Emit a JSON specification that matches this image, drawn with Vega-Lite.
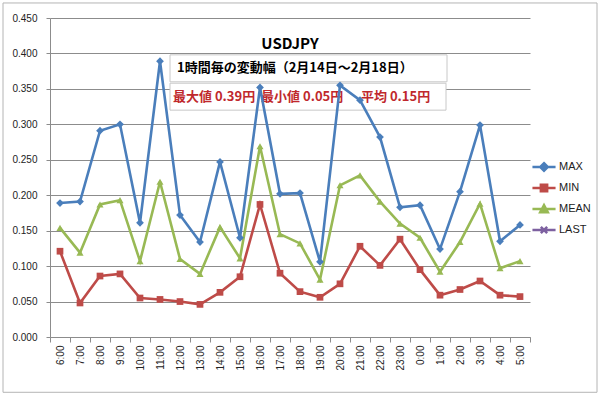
{
  "$schema": "https://vega.github.io/schema/vega-lite/v6.json",
  "width": 480,
  "height": 319,
  "autosize": {"type": "none"},
  "padding": {"left": 50, "top": 18, "right": 70, "bottom": 57},
  "background": "white",
  "config": {"view": {"stroke": null}, "font": "Liberation Sans"},
  "data": {"values": [
    {"t": "6:00", "MAX": 0.189, "MIN": 0.121, "MEAN": 0.154},
    {"t": "7:00", "MAX": 0.191, "MIN": 0.048, "MEAN": 0.119},
    {"t": "8:00", "MAX": 0.291, "MIN": 0.086, "MEAN": 0.187},
    {"t": "9:00", "MAX": 0.300, "MIN": 0.089, "MEAN": 0.193},
    {"t": "10:00", "MAX": 0.161, "MIN": 0.055, "MEAN": 0.107},
    {"t": "11:00", "MAX": 0.389, "MIN": 0.053, "MEAN": 0.219},
    {"t": "12:00", "MAX": 0.172, "MIN": 0.050, "MEAN": 0.110},
    {"t": "13:00", "MAX": 0.134, "MIN": 0.046, "MEAN": 0.089},
    {"t": "14:00", "MAX": 0.247, "MIN": 0.063, "MEAN": 0.155},
    {"t": "15:00", "MAX": 0.140, "MIN": 0.085, "MEAN": 0.111},
    {"t": "16:00", "MAX": 0.352, "MIN": 0.187, "MEAN": 0.269},
    {"t": "17:00", "MAX": 0.202, "MIN": 0.090, "MEAN": 0.145},
    {"t": "18:00", "MAX": 0.203, "MIN": 0.064, "MEAN": 0.132},
    {"t": "19:00", "MAX": 0.106, "MIN": 0.056, "MEAN": 0.081},
    {"t": "20:00", "MAX": 0.355, "MIN": 0.075, "MEAN": 0.214},
    {"t": "21:00", "MAX": 0.334, "MIN": 0.128, "MEAN": 0.228},
    {"t": "22:00", "MAX": 0.282, "MIN": 0.101, "MEAN": 0.191},
    {"t": "23:00", "MAX": 0.183, "MIN": 0.138, "MEAN": 0.160},
    {"t": "0:00", "MAX": 0.186, "MIN": 0.095, "MEAN": 0.140},
    {"t": "1:00", "MAX": 0.124, "MIN": 0.059, "MEAN": 0.092},
    {"t": "2:00", "MAX": 0.205, "MIN": 0.067, "MEAN": 0.134},
    {"t": "3:00", "MAX": 0.299, "MIN": 0.079, "MEAN": 0.188},
    {"t": "4:00", "MAX": 0.135, "MIN": 0.059, "MEAN": 0.097},
    {"t": "5:00", "MAX": 0.158, "MIN": 0.057, "MEAN": 0.107}
  ]},
  "layer": [
    {
      "data": {"values": [{}]},
      "layer": [
        {
          "mark": {"type": "rect", "fill": null, "stroke": "#b4b4b4", "strokeWidth": 1},
          "encoding": {
            "x": {"datum": -2.35, "type": "quantitative", "scale": {"domain": [0, 24], "nice": false, "zero": false}, "axis": null},
            "x2": {"datum": 27.35},
            "y": {"datum": 0.4712, "type": "quantitative", "scale": {"domain": [0, 0.45], "nice": false}, "axis": null},
            "y2": {"datum": -0.078}
          }
        },
        {
          "mark": {"type": "rect", "fill": "white", "stroke": "#c8c8c8", "strokeWidth": 1},
          "encoding": {
            "x": {"datum": 6.0, "type": "quantitative", "axis": null},
            "x2": {"datum": 19.85},
            "y": {"datum": 0.398, "type": "quantitative", "axis": null},
            "y2": {"datum": 0.360}
          }
        },
        {
          "mark": {"type": "rect", "fill": "white", "stroke": "#c8c8c8", "strokeWidth": 1},
          "encoding": {
            "x": {"datum": 6.0, "type": "quantitative", "axis": null},
            "x2": {"datum": 19.8},
            "y": {"datum": 0.358, "type": "quantitative", "axis": null},
            "y2": {"datum": 0.320}
          }
        },
        {
          "mark": {"type": "text", "font": "Noto Sans CJK JP", "fontWeight": "bold", "fontSize": 15, "align": "center", "baseline": "middle", "color": "#000000"},
          "encoding": {
            "x": {"datum": 12.0, "type": "quantitative", "axis": null},
            "y": {"datum": 0.414, "type": "quantitative", "axis": null},
            "text": {"value": "USDJPY"}
          }
        },
        {
          "mark": {"type": "text", "font": "Noto Sans CJK JP", "fontWeight": "bold", "fontSize": 13, "align": "left", "baseline": "middle", "color": "#000000"},
          "encoding": {
            "x": {"datum": 6.35, "type": "quantitative", "axis": null},
            "y": {"datum": 0.379, "type": "quantitative", "axis": null},
            "text": {"value": "1時間毎の変動幅（2月14日～2月18日）"}
          }
        },
        {
          "mark": {"type": "text", "font": "Noto Sans CJK JP", "fontWeight": "bold", "fontSize": 13, "align": "left", "baseline": "middle", "color": "#c0282d"},
          "encoding": {
            "x": {"datum": 6.15, "type": "quantitative", "axis": null},
            "y": {"datum": 0.339, "type": "quantitative", "axis": null},
            "text": {"value": "最大値 0.39円\u00a0 最小値 0.05円\u00a0\u00a0\u00a0\u00a0\u00a0 平均 0.15円"}
          }
        }
      ]
    },
    {
      "transform": [{"fold": ["MAX", "MIN", "MEAN"], "as": ["series", "value"]}],
      "encoding": {
        "x": {
          "field": "t", "type": "ordinal", "sort": null,
          "scale": {"type": "band", "paddingInner": 0, "paddingOuter": 0},
          "axis": {"title": null, "orient": "bottom", "labelAngle": -90, "tickBand": "extent", "tickSize": 5, "labelPadding": 3, "labelFontSize": 10, "labelColor": "#222222", "domainColor": "#8c8c8c", "tickColor": "#8c8c8c", "grid": false}
        },
        "y": {
          "field": "value", "type": "quantitative",
          "scale": {"domain": [0, 0.45], "nice": false},
          "axis": {"title": null, "orient": "left", "tickCount": 12, "values": [0, 0.05, 0.1, 0.15, 0.2, 0.25, 0.3, 0.35, 0.4, 0.45], "labelOverlap": false, "format": ".3f", "labelFontSize": 10, "labelColor": "#222222", "tickSize": 4, "labelPadding": 9, "domainColor": "#8c8c8c", "tickColor": "#8c8c8c", "grid": true, "gridColor": "#8c8c8c", "gridWidth": 1}
        },
        "color": {
          "field": "series", "type": "nominal",
          "scale": {"domain": ["MAX", "MIN", "MEAN", "LAST"], "range": ["#4a7ebb", "#be4b48", "#98b954", "#7d60a0"]},
          "legend": {
            "title": null, "orient": "none", "legendX": 482, "legendY": 137, "padding": 0,
            "symbolSize": 441, "symbolStrokeWidth": 2.5, "rowPadding": 0,
            "labelFontSize": 11, "labelColor": "#222222", "labelOffset": 3,
            "encode": {"symbols": {"update": {
              "shape": {"signal": "datum.value === 'MAX' ? 'M-1.1,0H1.1M0,-0.36L0.36,0L0,0.36L-0.36,0Z' : datum.value === 'MIN' ? 'M-1.1,0H1.1M-0.3,-0.3H0.3V0.3H-0.3Z' : datum.value === 'MEAN' ? 'M-1.1,0H1.1M0,-0.36L0.36,0.3H-0.36Z' : 'M-1.1,0H1.1M-0.3,-0.3L0.3,0.3M-0.3,0.3L0.3,-0.3'"},
              "fill": {"signal": "datum.value === 'LAST' ? 'transparent' : scale('color', datum.value)"},
              "stroke": {"signal": "scale('color', datum.value)"},
              "strokeWidth": {"value": 2.5},
              "opacity": {"value": 1}
            }}}
          }
        }
      },
      "layer": [
        {"mark": {"type": "line", "strokeWidth": 2.6}},
        {
          "transform": [{"filter": "datum.series === 'MAX'"}],
          "mark": {"type": "point", "shape": "diamond", "filled": true, "opacity": 1, "size": 60}
        },
        {
          "transform": [{"filter": "datum.series === 'MIN'"}],
          "mark": {"type": "point", "shape": "square", "filled": true, "opacity": 1, "size": 45}
        },
        {
          "transform": [{"filter": "datum.series === 'MEAN'"}],
          "mark": {"type": "point", "shape": "triangle-up", "filled": true, "opacity": 1, "size": 50}
        }
      ]
    }
  ],
  "resolve": {"scale": {"x": "independent", "y": "independent"}}
}
